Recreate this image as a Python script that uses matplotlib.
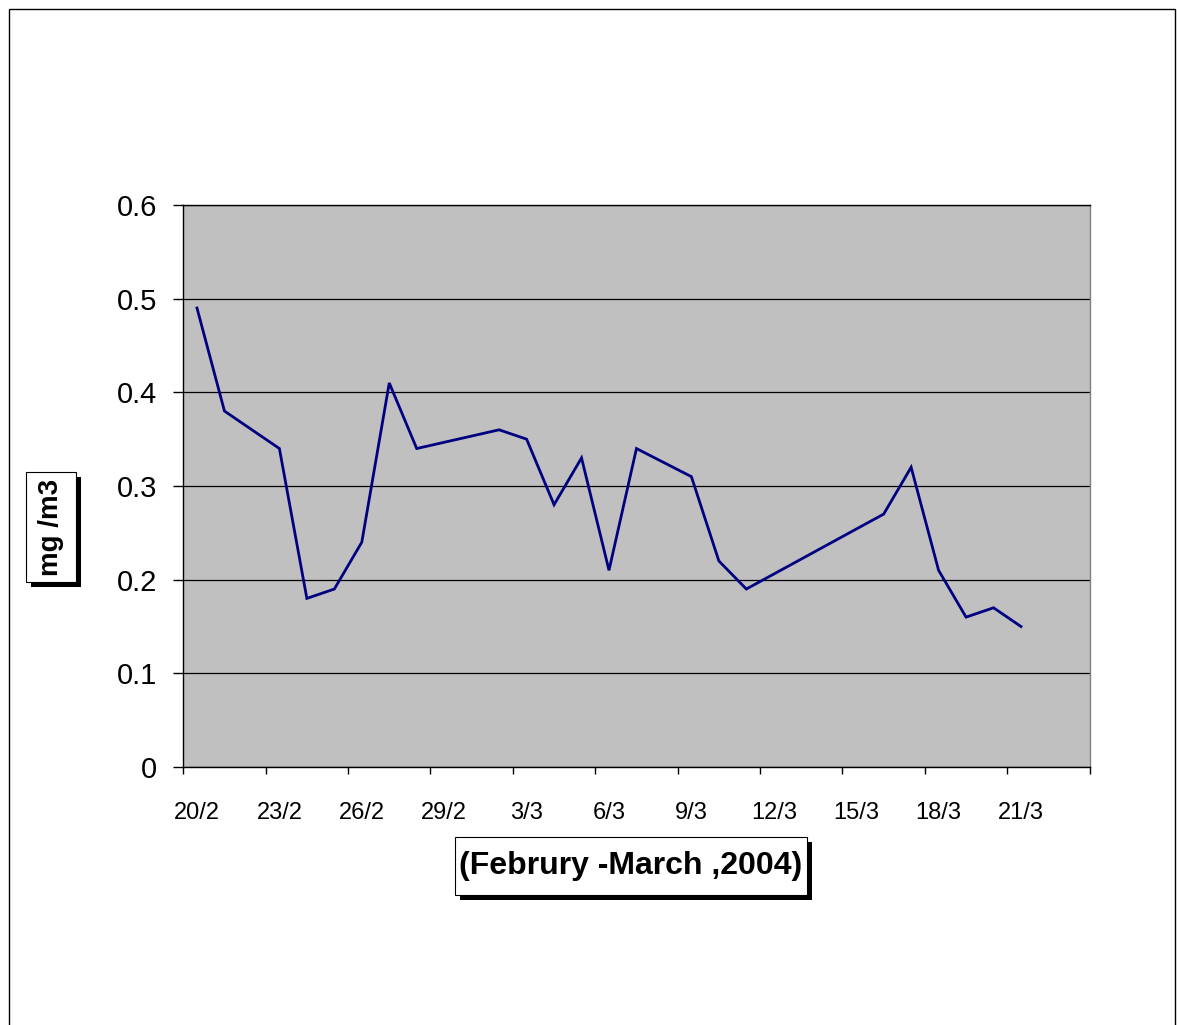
import numpy as np
import matplotlib
matplotlib.use("Agg")
import matplotlib.pyplot as plt
import matplotlib.dates as mdates
import matplotlib.patheffects as pe
from matplotlib.patches import Rectangle
from matplotlib.ticker import FixedLocator, FuncFormatter, NullFormatter

plt.rcParams['font.family'] = ['Liberation Sans', 'DejaVu Sans']

# sampling days (2004) and measured concentration, mg/m3
dates = ['2004-02-20', '2004-02-21', '2004-02-23', '2004-02-24', '2004-02-25',
         '2004-02-26', '2004-02-27', '2004-02-28', '2004-03-02', '2004-03-03',
         '2004-03-04', '2004-03-05', '2004-03-06', '2004-03-07', '2004-03-09',
         '2004-03-10', '2004-03-11', '2004-03-16', '2004-03-17', '2004-03-18',
         '2004-03-19', '2004-03-20', '2004-03-21']
values = [0.49, 0.38, 0.34, 0.18, 0.19,
          0.24, 0.41, 0.34, 0.36, 0.35,
          0.28, 0.33, 0.21, 0.34, 0.31,
          0.22, 0.19, 0.27, 0.32, 0.21,
          0.16, 0.17, 0.15]
y_ticks = [0, 0.1, 0.2, 0.3, 0.4, 0.5, 0.6]
y_labels = ['0', '0.1', '0.2', '0.3', '0.4', '0.5', '0.6']

W, H = 1177, 1025

days = np.array(dates, dtype='datetime64[D]')
# each value sits in the middle of its day
x = mdates.date2num(days) + 0.5

fig = plt.figure(figsize=(W / 100, H / 100), dpi=100)
ax = fig.add_axes([0.1557, 0.2517, 0.9258 - 0.1557, 0.8 - 0.2517])
ax.set_facecolor('#C0C0C0')

ax.plot(x, values, color='#000080', lw=2, solid_joinstyle='miter', zorder=3)

start = mdates.date2num(np.datetime64('2004-02-20'))
end = mdates.date2num(np.datetime64('2004-03-24'))
ax.set_xlim(start, end)
ax.set_ylim(0, 0.6)

# ticks on day boundaries, labels centred on the day
bounds = np.arange(start, end + 0.1, 3)
ax.xaxis.set_major_locator(FixedLocator(bounds))
ax.xaxis.set_major_formatter(NullFormatter())
ax.xaxis.set_minor_locator(FixedLocator(bounds[:-1] + 0.5))
ax.xaxis.set_minor_formatter(FuncFormatter(
    lambda v, pos: '%d/%d' % (mdates.num2date(v).day, mdates.num2date(v).month)))
ax.tick_params(axis='x', which='major', direction='out', length=5, width=1, color='black')
ax.tick_params(axis='x', which='minor', length=0, pad=25, labelsize=17)

ax.set_yticks(y_ticks)
ax.set_yticklabels(y_labels)
ax.tick_params(axis='y', direction='out', length=7, width=1, pad=12, labelsize=21)

ax.grid(axis='y', color='black', lw=0.9, zorder=1)
ax.set_axisbelow(True)
ax.spines['left'].set_color('black')
ax.spines['bottom'].set_color('black')
ax.spines['top'].set_color('black')
ax.spines['right'].set_color('#808080')
for s in ax.spines.values():
    s.set_linewidth(1)

shadow = [pe.SimplePatchShadow(offset=(3.6, -3.6), shadow_rgbFace='black', alpha=1),
          pe.Normal()]


def title_box(x0, y0, x1, y1):
    # white box with a drop shadow, given in pixels from the top-left corner
    r = Rectangle((x0 / W, 1 - y1 / H), (x1 - x0) / W, (y1 - y0) / H,
                  transform=fig.transFigure, fc='white', ec='black', lw=0.8,
                  zorder=1)
    r.set_path_effects(shadow)
    fig.patches.append(r)
    return (x0 + x1) / 2 / W, 1 - (y0 + y1) / 2 / H


cx, cy = title_box(26, 472, 76, 582)
fig.text(cx, cy, 'mg /m3', rotation=90, ha='center', va='center',
         fontsize=20, fontweight='bold', zorder=3)
cx, cy = title_box(455, 837, 807, 895)
fig.text(cx, cy, '(Februry -March ,2004)', ha='center', va='center',
         fontsize=23, fontweight='bold', zorder=3)

# chart border
fig.patches.append(Rectangle((8.5 / W, -0.05), (1175 - 8.5) / W, 1.05 - 8.5 / H,
                             transform=fig.transFigure, fill=False, ec='black', lw=1))

fig.savefig('out.png', dpi=100)
